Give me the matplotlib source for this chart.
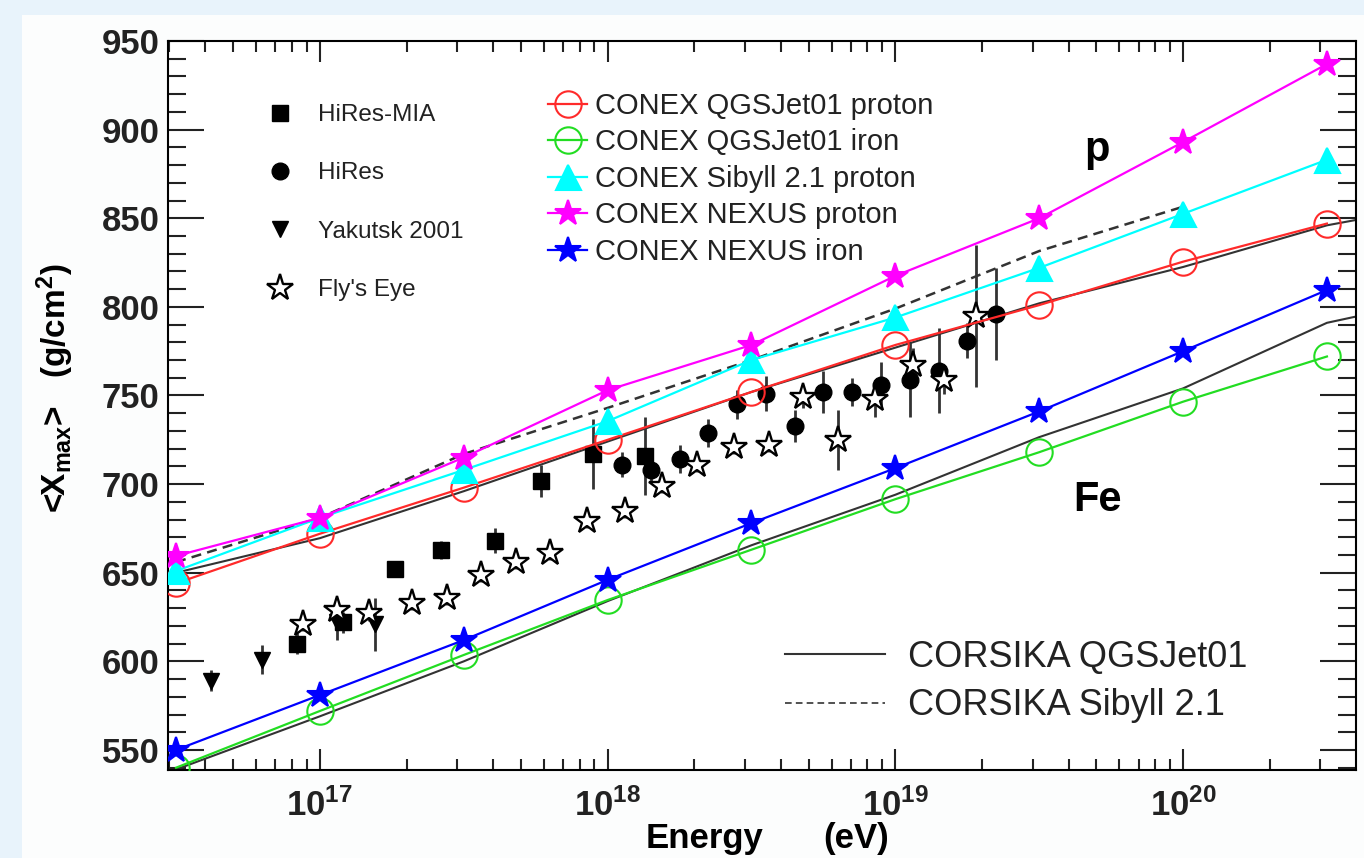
import numpy as np
import matplotlib
matplotlib.use("Agg")
import matplotlib.pyplot as plt
from matplotlib.lines import Line2D
from matplotlib.patches import Rectangle
from matplotlib.ticker import MultipleLocator, LogLocator, NullFormatter

plt.rcParams['font.family'] = ['Liberation Sans', 'DejaVu Sans']
plt.rcParams['mathtext.fontset'] = 'custom'
plt.rcParams['mathtext.rm'] = 'Liberation Sans:bold'
plt.rcParams['mathtext.bf'] = 'Liberation Sans:bold'
plt.rcParams['mathtext.it'] = 'Liberation Sans:bold'
plt.rcParams['mathtext.default'] = 'bf'

# CONEX simulations (log10 E/eV, <Xmax> g/cm2)
conex_loge = [16.5, 17.0, 17.5, 18.0, 18.5, 19.0, 19.5, 20.0, 20.5]
qgs_proton = [644, 672, 698, 725, 752, 778.5, 801, 825.5, 847]
qgs_iron = [540, 572, 603.6, 634.6, 663, 691.5, 718, 746.5, 772]
sib_proton = [651, 681, 708, 735.5, 770, 794, 822, 852.5, 883]
nexus_proton = [659.5, 681, 715, 753, 778.5, 817.5, 850, 893, 937]
nexus_iron = [550, 581, 612, 646, 678, 709, 741, 775, 809.5]

# CORSIKA reference curves
cors_qgs_loge = [16.5, 17.0, 17.5, 18.0, 18.5, 19.0, 19.5, 20.0, 20.5, 20.6]
cors_qgs_proton = [650, 669.5, 696, 724, 752, 777, 802, 822.5, 846, 849]
cors_qgs_iron = [539, 569, 600, 634, 665.5, 694, 726.5, 754, 791, 794.5]
cors_sib_loge = [16.5, 17.0, 17.5, 18.0, 18.5, 19.0, 19.5, 20.0]
cors_sib_proton = [656, 681, 717, 743, 770, 799, 831.5, 856.5]

# measurements
mia_loge = [16.92, 17.08, 17.26, 17.42, 17.61, 17.77, 17.95, 18.13]
mia_xmax = [610, 622, 652, 663, 668, 702, 717, 716]
mia_err = [6, 6, 4, 5, 7, 9, 20, 22]

hires_loge = [18.05, 18.15, 18.25, 18.35, 18.45, 18.55, 18.65, 18.75, 18.85,
              18.95, 19.05, 19.15, 19.25, 19.35]
hires_xmax = [711, 708, 714, 729, 745, 751, 733, 752, 752, 756, 759, 764, 781, 796]
hires_err = [7, 6, 8, 8, 8, 10, 9, 12, 8, 13, 21, 24, 10, 26]

yak_loge = [16.62, 16.80, 17.06, 17.19]
yak_xmax = [589, 601, 622, 621]
yak_err = [6, 8, 10, 15]

fly_loge = [16.94, 17.06, 17.17, 17.32, 17.44, 17.56, 17.68, 17.80, 17.93, 18.06,
            18.19, 18.31, 18.44, 18.56, 18.68, 18.80, 18.93, 19.06, 19.17, 19.28]
fly_xmax = [621, 629, 627, 633, 636, 649, 656, 661, 679, 685,
            699, 711, 721, 722, 749, 725, 748, 767, 759, 795]
fly_err = [4, 4, 4, 4, 4, 4, 4, 4, 4, 4,
           4, 4, 4, 4, 6, 17, 10, 10, 8, 40]

W, H = 1364, 858
fig = plt.figure(figsize=(W / 100, H / 100), dpi=100, facecolor='#e8f3fb')
fig.patches.append(Rectangle((22 / W, 0), 1, 1 - 15 / H, transform=fig.transFigure,
                             facecolor='#fcfdfd', edgecolor='none', zorder=-10))
ax = fig.add_axes([168 / W, 88 / H, (1356 - 168) / W, (770 - 41) / H])
ax.set_facecolor('white')

def E(loge):
    return 10 ** np.asarray(loge)

# CORSIKA lines
ax.plot(E(cors_qgs_loge), cors_qgs_proton, color='#333333', lw=1.5, zorder=2)
ax.plot(E(cors_qgs_loge), cors_qgs_iron, color='#333333', lw=1.5, zorder=2)
ax.plot(E(cors_sib_loge), cors_sib_proton, color='#333333', lw=1.8,
        ls=(0, (4, 2.5)), zorder=2)

# measurements
ekw = dict(color='black', ecolor='#333333', elinewidth=2, capsize=0, ls='none', zorder=4)
ax.errorbar(E(mia_loge), mia_xmax, yerr=mia_err, fmt='s', ms=12, **ekw)
ax.errorbar(E(hires_loge), hires_xmax, yerr=hires_err, fmt='o', ms=12, **ekw)
ax.errorbar(E(yak_loge), yak_xmax, yerr=yak_err, fmt='v', ms=12, **ekw)
ax.errorbar(E(fly_loge), fly_xmax, yerr=fly_err, fmt='*', ms=20, mfc='white',
            mec='black', mew=1.7, **ekw)

# CONEX
conex = [
    (qgs_proton, '#ff2a2a', 'o', 'none', 19, 'CONEX QGSJet01 proton'),
    (qgs_iron, '#22dd22', 'o', 'none', 19, 'CONEX QGSJet01 iron'),
    (sib_proton, '#00ffff', '^', '#00ffff', 18, 'CONEX Sibyll 2.1 proton'),
    (nexus_proton, '#ff00ff', '*', '#ff00ff', 19, 'CONEX NEXUS proton'),
    (nexus_iron, '#0000ff', '*', '#0000ff', 19, 'CONEX NEXUS iron'),
]
conex_handles = []
for vals, col, mk, fc, ms, lab in conex:
    h, = ax.plot(E(conex_loge), vals, color=col, lw=1.6, marker=mk, ms=ms,
                 mfc=fc, mec=col, mew=1.5, zorder=5, label=lab)
    conex_handles.append(h)

ax.set_xscale('log')
ax.set_xlim(10 ** 16.472, 10 ** 20.601)
ax.set_ylim(538.7, 950)
ax.yaxis.set_major_locator(MultipleLocator(50))
ax.yaxis.set_minor_locator(MultipleLocator(10))
ax.xaxis.set_minor_locator(LogLocator(base=10, subs=np.arange(2, 10), numticks=20))
ax.xaxis.set_minor_formatter(NullFormatter())
xt = [1e17, 1e18, 1e19, 1e20]
ax.set_xticks(xt)
ax.set_xticklabels([r'$10^{%d}$' % int(np.log10(v)) for v in xt])

for s in ax.spines.values():
    s.set_linewidth(1.5)
ax.tick_params(which='both', direction='in', top=True, right=True, width=1.5,
               colors='#222222', labelsize=25)
ax.tick_params(axis='y', which='major', length=26, pad=6)
ax.tick_params(axis='y', which='minor', length=13)
ax.tick_params(axis='x', which='major', length=15, pad=13)
ax.tick_params(axis='x', which='minor', length=8)
for lab in ax.get_yticklabels():
    lab.set_fontweight('bold')

ax.text(0.782, 0.85, 'p', transform=ax.transAxes, fontsize=30, fontweight='bold',
        ha='center', va='center')
ax.text(0.782, 0.37, 'Fe', transform=ax.transAxes, fontsize=30, fontweight='bold',
        ha='center', va='center')

ax.text(0.452, -0.094, 'Energy', transform=ax.transAxes, fontsize=25,
        fontweight='bold', ha='center', va='center')
ax.text(0.579, -0.094, '(eV)', transform=ax.transAxes, fontsize=25,
        fontweight='bold', ha='center', va='center')
fig.text(55 / W, 1 - 388 / H, r'<X$_{max}$>   (g/cm$^{2}$)', rotation=90,
         fontsize=24, fontweight='bold', ha='center', va='center')

# legends
data_handles = [
    Line2D([], [], ls='none', marker='s', ms=12, color='black'),
    Line2D([], [], ls='none', marker='o', ms=12, color='black'),
    Line2D([], [], ls='none', marker='v', ms=12, color='black'),
    Line2D([], [], ls='none', marker='*', ms=20, mfc='white', mec='black', mew=1.7),
]
data_labels = ['HiRes-MIA', 'HiRes', 'Yakutsk 2001', "Fly's Eye"]
leg1 = ax.legend(data_handles, data_labels, loc='upper left',
                 bbox_to_anchor=(268 / W, 1 - 104 / H), bbox_transform=fig.transFigure,
                 frameon=False, fontsize=17.5, handlelength=1.0, handletextpad=1.05,
                 labelspacing=1.5, borderpad=0, borderaxespad=0, numpoints=1)
for t in leg1.get_texts():
    t.set_color('#222222')
ax.add_artist(leg1)

leg2 = ax.legend(handles=conex_handles, loc='upper left',
                 bbox_to_anchor=(548 / W, 1 - 92 / H), bbox_transform=fig.transFigure,
                 frameon=False, fontsize=21, handlelength=1.34, handletextpad=0.27,
                 labelspacing=0.29, borderpad=0, borderaxespad=0, numpoints=1)
for t in leg2.get_texts():
    t.set_color('#222222')
ax.add_artist(leg2)

cors_handles = [
    Line2D([], [], color='#333333', lw=1.5),
    Line2D([], [], color='#333333', lw=1.2, ls=(0, (4, 2.5))),
]
leg3 = ax.legend(cors_handles, ['CORSIKA QGSJet01', 'CORSIKA Sibyll 2.1'],
                 loc='upper left', bbox_to_anchor=(785 / W, 1 - 640 / H),
                 bbox_transform=fig.transFigure, frameon=False, fontsize=26,
                 handlelength=2.77, handletextpad=0.64, labelspacing=0.37,
                 borderpad=0, borderaxespad=0)
for t in leg3.get_texts():
    t.set_color('#222222')

fig.savefig('out.png', dpi=100, facecolor=fig.get_facecolor())
